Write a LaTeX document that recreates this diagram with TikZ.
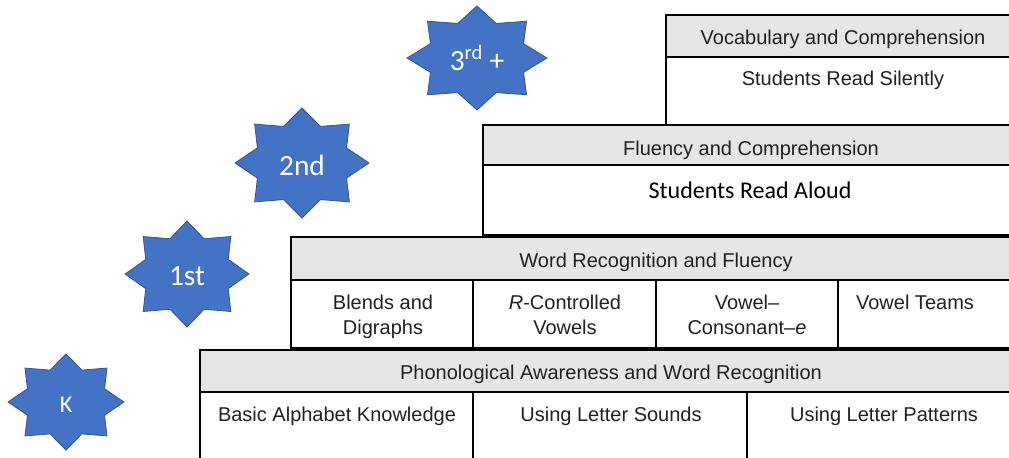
\documentclass[tikz,border=0pt]{standalone}
\usepackage{fontspec}
\setmainfont{Liberation Sans}
\newfontfamily\calibri{Carlito}
\usepackage{xcolor}
\definecolor{starblue}{HTML}{4472C4}
\definecolor{headgray}{HTML}{E6E6E6}
\definecolor{inkgray}{HTML}{231F20}

\begin{document}
\begin{tikzpicture}[x=0.75pt, y=-0.75pt]
\tikzset{frame/.style = {draw=black, line width=1.5pt}}
\tikzset{head/.style = {frame, fill=headgray}}
\tikzset{cell/.style = {text=inkgray, font=\fontsize{15}{18.75}\selectfont, align=center, anchor=base}}
\tikzset{gradestar/.style = {fill=starblue, draw=starblue!75!black, line width=0.6pt}}
\tikzset{gradelabel/.style = {text=white, font=\calibri\fontsize{22}{26}\selectfont, anchor=base}}

\useasboundingbox (0,0) rectangle (1009,457);
\clip (0,0) rectangle (1009,457);

%stars
\foreach \cx/\cy/\rx/\ry in {477/58/70/52, 302/163/67/55, 187/274/62/53, 66/402/58/48}
  \filldraw[gradestar, shift={(\cx,\cy)}, xscale=\rx, yscale=\ry]
    (0:1) \foreach \a in {45,90,...,315} {-- (\a-22.5:0.72) -- (\a:1)} -- (337.5:0.72) -- cycle;

\node[gradelabel] (third) at (477,70) {3\textsuperscript{rd} +};
\node[gradelabel] (second) at (302,175) {2nd};
\node[gradelabel] (first) at (187,285) {1st};
\node[gradelabel, font=\calibri\fontsize{18}{21}\selectfont] (kinder) at (66,412) {K};

%third grade and up
\draw[head] (666,15) rectangle (1020,57);
\draw[frame] (666,57) rectangle (1020,125);
\node[cell] (vocab) at (843,44) {Vocabulary and Comprehension};
\node[cell] (silent) at (843,85) {Students Read Silently};

%second grade
\draw[head] (483,125) rectangle (1020,165);
\draw[frame] (483,165) rectangle (1020,235);
\node[cell] (fluency) at (751,155) {Fluency and Comprehension};
\node[cell, text=black, font=\calibri\fontsize{18}{22}\selectfont] (aloud) at (750,198) {Students Read Aloud};

%first grade
\draw[head] (291,237) rectangle (1020,280);
\draw[frame] (291,280) rectangle (1020,348);
\draw[frame] (473,280) -- (473,348);
\draw[frame] (656,280) -- (656,348);
\draw[frame] (838,280) -- (838,348);
\node[cell] (wordrec) at (656,267) {Word Recognition and Fluency};
\node[cell, anchor=north] (blends) at (383,290) {Blends and\\Digraphs};
\node[cell, anchor=north] (rcontrol) at (565,290) {\textit{R}-Controlled\\Vowels};
\node[cell, anchor=north] (vce) at (747,290) {Vowel--\\Consonant--\textit{e}};
\node[cell, anchor=north] (teams) at (915,290) {Vowel Teams};

%kindergarten
\draw[head] (200,350) rectangle (1020,392);
\draw[frame] (200,392) rectangle (1020,470);
\draw[frame] (473,392) -- (473,470);
\draw[frame] (747,392) -- (747,470);
\node[cell] (phono) at (611,379) {Phonological Awareness and Word Recognition};
\node[cell] (alphabet) at (337,421) {Basic Alphabet Knowledge};
\node[cell] (sounds) at (611,421) {Using Letter Sounds};
\node[cell] (patterns) at (884,421) {Using Letter Patterns};

\end{tikzpicture}
\end{document}
